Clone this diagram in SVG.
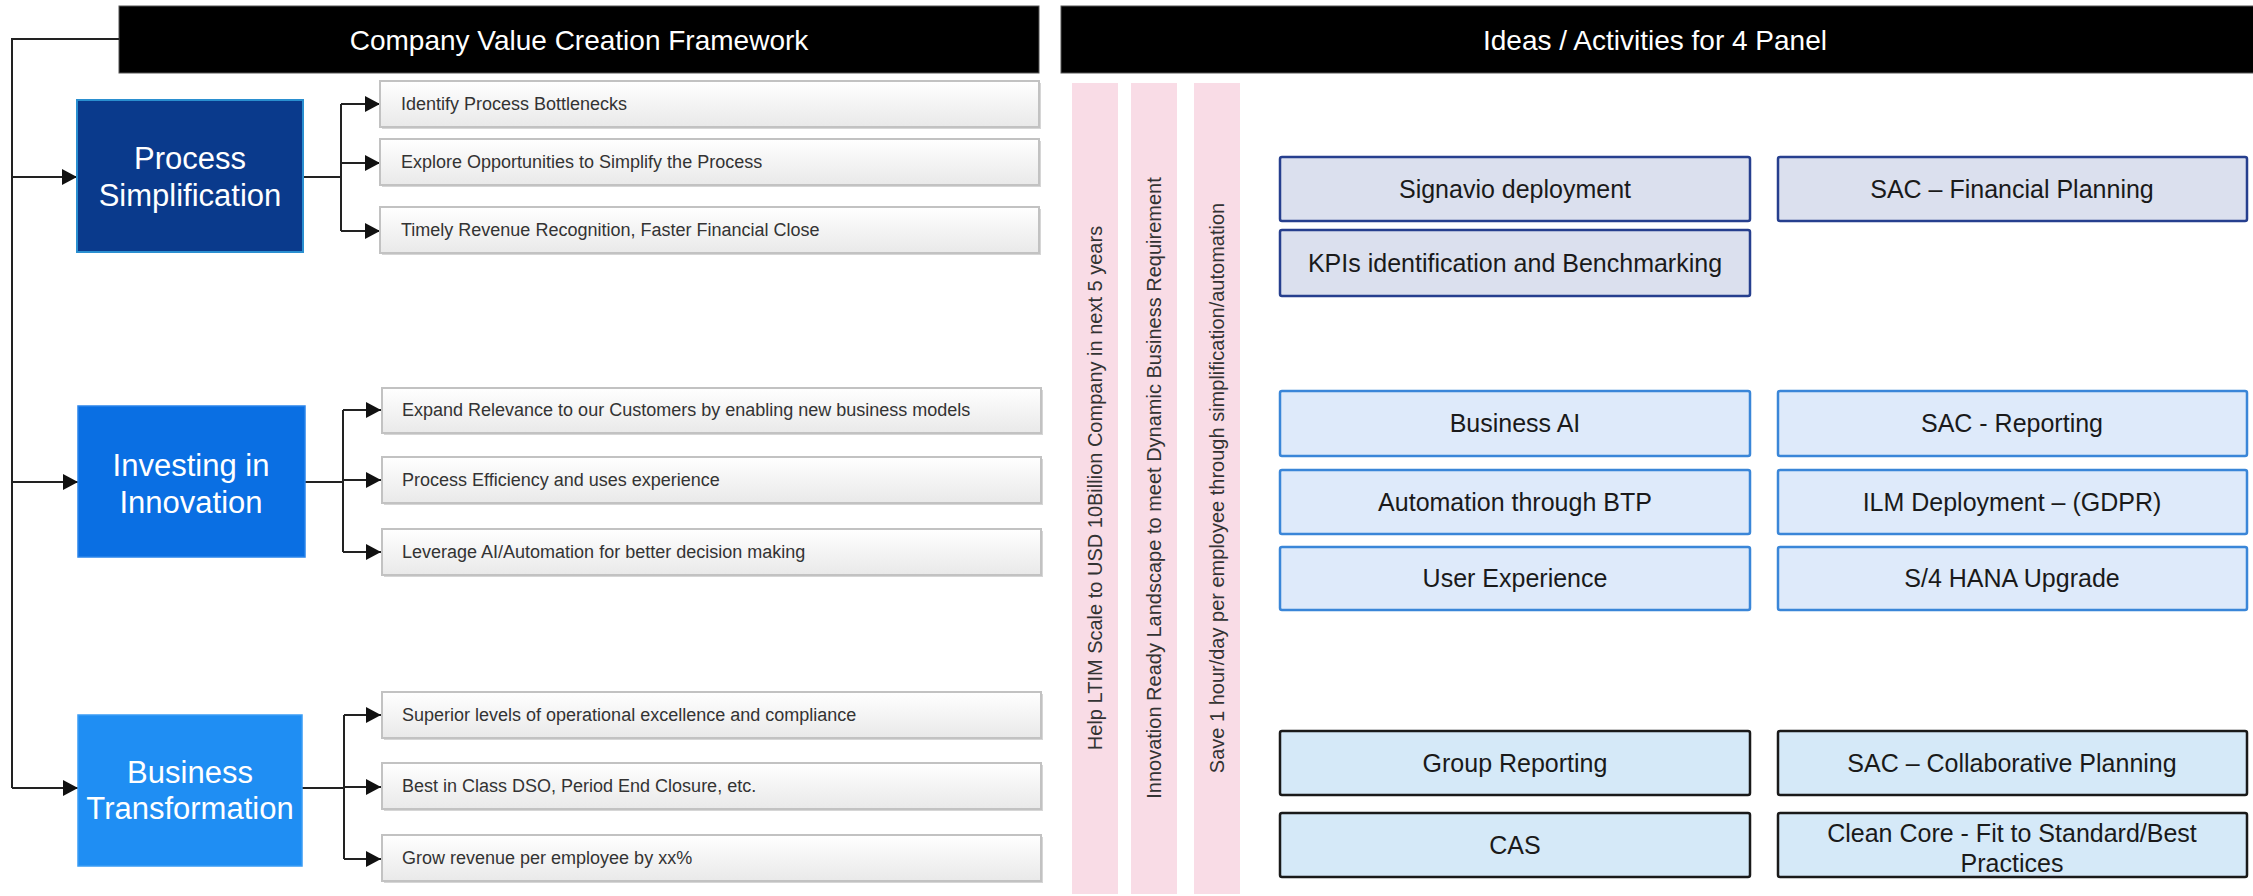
<svg xmlns="http://www.w3.org/2000/svg" width="2253" height="896" viewBox="0 0 2253 896">
  <defs>
    <linearGradient id="itemFill" x1="0" y1="0" x2="0" y2="1">
      <stop offset="0" stop-color="#ffffff"/>
      <stop offset="1" stop-color="#e9e9e9"/>
    </linearGradient>
    <marker id="arrow" markerUnits="userSpaceOnUse" markerWidth="15" markerHeight="16" refX="15" refY="8" orient="auto">
      <path d="M0,0 L15,8 L0,16 z" fill="#111"/>
    </marker>
    <style>
      .hdr { fill: #000; stroke: #555; stroke-width: 1; }
      .hdrText { font-family: "Liberation Sans", Arial, sans-serif; font-size: 28px; fill: #fff; text-anchor: middle; }
      .pillar { font-family: "Liberation Sans", Arial, sans-serif; font-size: 31px; fill: #fff; text-anchor: middle; }
      .item { fill: url(#itemFill); stroke: #c2c2c2; stroke-width: 2; }
      .itemShadow { fill: #d6d6d6; }
      .itemText { font-family: "Liberation Sans", Arial, sans-serif; font-size: 18px; fill: #333; }
      .band { fill: #f9dce6; }
      .bandText { font-family: "Liberation Sans", Arial, sans-serif; font-size: 20px; fill: #333; text-anchor: middle; }
      .act { stroke-width: 2.5; }
      .actA { fill: #dbe0ee; stroke: #263f8e; }
      .actB { fill: #deeafa; stroke: #3a86d8; }
      .actC { fill: #d5e9f8; stroke: #1a1a1a; }
      .actText { font-family: "Liberation Sans", Arial, sans-serif; font-size: 25px; fill: #1a1a1a; text-anchor: middle; }
      .conn { fill: none; stroke: #222; stroke-width: 2; }
    </style>
  </defs>

  <rect width="2253" height="896" fill="#fff"/>

  <!-- Section headers -->
  <g id="header-framework">
    <rect class="hdr" x="119" y="6" width="920" height="67"/>
    <text class="hdrText" x="579" y="50">Company Value Creation Framework</text>
  </g>
  <g id="header-ideas">
    <rect class="hdr" x="1061" y="6" width="1200" height="67"/>
    <text class="hdrText" x="1655" y="50">Ideas / Activities for 4 Panel</text>
  </g>

  <!-- Connectors -->
  <g id="connectors">
    <path class="conn" d="M119,39 H12 V788"/>
    <path class="conn" d="M12,177 H77" marker-end="url(#arrow)"/>
    <path class="conn" d="M12,482 H78" marker-end="url(#arrow)"/>
    <path class="conn" d="M12,788 H78" marker-end="url(#arrow)"/>

    <path class="conn" d="M303,177 H341 M341,104 V231"/>
    <path class="conn" d="M341,104 H380" marker-end="url(#arrow)"/>
    <path class="conn" d="M341,163 H380" marker-end="url(#arrow)"/>
    <path class="conn" d="M341,231 H380" marker-end="url(#arrow)"/>

    <path class="conn" d="M305,482 H343 M343,410 V552"/>
    <path class="conn" d="M343,410 H381" marker-end="url(#arrow)"/>
    <path class="conn" d="M343,480 H381" marker-end="url(#arrow)"/>
    <path class="conn" d="M343,552 H381" marker-end="url(#arrow)"/>

    <path class="conn" d="M302,788 H344 M344,715 V859"/>
    <path class="conn" d="M344,715 H381" marker-end="url(#arrow)"/>
    <path class="conn" d="M344,787 H381" marker-end="url(#arrow)"/>
    <path class="conn" d="M344,859 H381" marker-end="url(#arrow)"/>
  </g>

  <!-- Pillars -->
  <g id="pillar-process">
    <rect x="77" y="100" width="226" height="152" fill="#0a3a8c" stroke="#2a8fd0" stroke-width="2"/>
    <text class="pillar" x="190" y="169">Process</text>
    <text class="pillar" x="190" y="206">Simplification</text>
  </g>
  <g id="pillar-innovation">
    <rect x="78" y="406" width="227" height="151" fill="#0a6fe3" stroke="#2a84ea" stroke-width="1.5"/>
    <text class="pillar" x="191" y="476">Investing in</text>
    <text class="pillar" x="191" y="513">Innovation</text>
  </g>
  <g id="pillar-transformation">
    <rect x="78" y="715" width="224" height="151" fill="#1f8ef3" stroke="#3a9cf5" stroke-width="1.5"/>
    <text class="pillar" x="190" y="783">Business</text>
    <text class="pillar" x="190" y="819">Transformation</text>
  </g>

  <!-- Framework items -->
  <g id="item-bottlenecks">
    <rect class="itemShadow" x="382" y="83" width="659" height="46"/>
    <rect class="item" x="380" y="81" width="659" height="46"/>
    <text class="itemText" x="401" y="110">Identify  Process Bottlenecks</text>
  </g>
  <g id="item-simplify">
    <rect class="itemShadow" x="382" y="141" width="659" height="46"/>
    <rect class="item" x="380" y="139" width="659" height="46"/>
    <text class="itemText" x="401" y="168">Explore Opportunities to Simplify the Process</text>
  </g>
  <g id="item-revenue">
    <rect class="itemShadow" x="382" y="209" width="659" height="46"/>
    <rect class="item" x="380" y="207" width="659" height="46"/>
    <text class="itemText" x="401" y="236">Timely Revenue Recognition, Faster Financial Close</text>
  </g>
  <g id="item-relevance">
    <rect class="itemShadow" x="384" y="390" width="659" height="45"/>
    <rect class="item" x="382" y="388" width="659" height="45"/>
    <text class="itemText" x="402" y="416">Expand Relevance to our Customers by enabling new business models</text>
  </g>
  <g id="item-efficiency">
    <rect class="itemShadow" x="384" y="459" width="659" height="46"/>
    <rect class="item" x="382" y="457" width="659" height="46"/>
    <text class="itemText" x="402" y="486">Process Efficiency and uses experience</text>
  </g>
  <g id="item-ai">
    <rect class="itemShadow" x="384" y="531" width="659" height="46"/>
    <rect class="item" x="382" y="529" width="659" height="46"/>
    <text class="itemText" x="402" y="558">Leverage AI/Automation  for better decision making</text>
  </g>
  <g id="item-excellence">
    <rect class="itemShadow" x="384" y="694" width="659" height="46"/>
    <rect class="item" x="382" y="692" width="659" height="46"/>
    <text class="itemText" x="402" y="721">Superior levels of operational excellence and compliance</text>
  </g>
  <g id="item-dso">
    <rect class="itemShadow" x="384" y="765" width="659" height="46"/>
    <rect class="item" x="382" y="763" width="659" height="46"/>
    <text class="itemText" x="402" y="792">Best in Class DSO, Period End Closure, etc.</text>
  </g>
  <g id="item-revenue-employee">
    <rect class="itemShadow" x="384" y="837" width="659" height="46"/>
    <rect class="item" x="382" y="835" width="659" height="46"/>
    <text class="itemText" x="402" y="864">Grow revenue per employee by xx%</text>
  </g>

  <!-- Goal bands -->
  <g id="goal-scale">
    <rect class="band" x="1072" y="83" width="46" height="811"/>
    <text class="bandText" transform="translate(1102,488) rotate(-90)">Help LTIM Scale to USD 10Billion Company in next 5 years</text>
  </g>
  <g id="goal-landscape">
    <rect class="band" x="1131" y="83" width="46" height="811"/>
    <text class="bandText" transform="translate(1161,488) rotate(-90)">Innovation Ready Landscape to meet Dynamic Business Requirement</text>
  </g>
  <g id="goal-time">
    <rect class="band" x="1194" y="83" width="46" height="811"/>
    <text class="bandText" transform="translate(1224,488) rotate(-90)">Save 1 hour/day per employee through simplification/automation</text>
  </g>

  <!-- Activities -->
  <g id="act-signavio">
    <rect class="act actA" x="1280" y="157" width="470" height="64" rx="2"/>
    <text class="actText" x="1515" y="198">Signavio deployment</text>
  </g>
  <g id="act-sac-fp">
    <rect class="act actA" x="1778" y="157" width="469" height="64" rx="2"/>
    <text class="actText" x="2012" y="198">SAC – Financial Planning</text>
  </g>
  <g id="act-kpis">
    <rect class="act actA" x="1280" y="230" width="470" height="66" rx="2"/>
    <text class="actText" x="1515" y="272">KPIs identification and Benchmarking</text>
  </g>
  <g id="act-business-ai">
    <rect class="act actB" x="1280" y="391" width="470" height="65" rx="2"/>
    <text class="actText" x="1515" y="432">Business AI</text>
  </g>
  <g id="act-sac-reporting">
    <rect class="act actB" x="1778" y="391" width="469" height="65" rx="2"/>
    <text class="actText" x="2012" y="432">SAC - Reporting</text>
  </g>
  <g id="act-btp">
    <rect class="act actB" x="1280" y="470" width="470" height="64" rx="2"/>
    <text class="actText" x="1515" y="511">Automation through BTP</text>
  </g>
  <g id="act-ilm">
    <rect class="act actB" x="1778" y="470" width="469" height="64" rx="2"/>
    <text class="actText" x="2012" y="511">ILM Deployment – (GDPR)</text>
  </g>
  <g id="act-ux">
    <rect class="act actB" x="1280" y="547" width="470" height="63" rx="2"/>
    <text class="actText" x="1515" y="587">User Experience</text>
  </g>
  <g id="act-s4">
    <rect class="act actB" x="1778" y="547" width="469" height="63" rx="2"/>
    <text class="actText" x="2012" y="587">S/4 HANA  Upgrade</text>
  </g>
  <g id="act-group-reporting">
    <rect class="act actC" x="1280" y="731" width="470" height="64" rx="2"/>
    <text class="actText" x="1515" y="772">Group Reporting</text>
  </g>
  <g id="act-sac-collab">
    <rect class="act actC" x="1778" y="731" width="469" height="64" rx="2"/>
    <text class="actText" x="2012" y="772">SAC – Collaborative Planning</text>
  </g>
  <g id="act-cas">
    <rect class="act actC" x="1280" y="813" width="470" height="64" rx="2"/>
    <text class="actText" x="1515" y="854">CAS</text>
  </g>
  <g id="act-clean-core">
    <rect class="act actC" x="1778" y="813" width="469" height="64" rx="2"/>
    <text class="actText" x="2012" y="842">Clean Core - Fit to Standard/Best</text>
    <text class="actText" x="2012" y="872">Practices</text>
  </g>
</svg>
